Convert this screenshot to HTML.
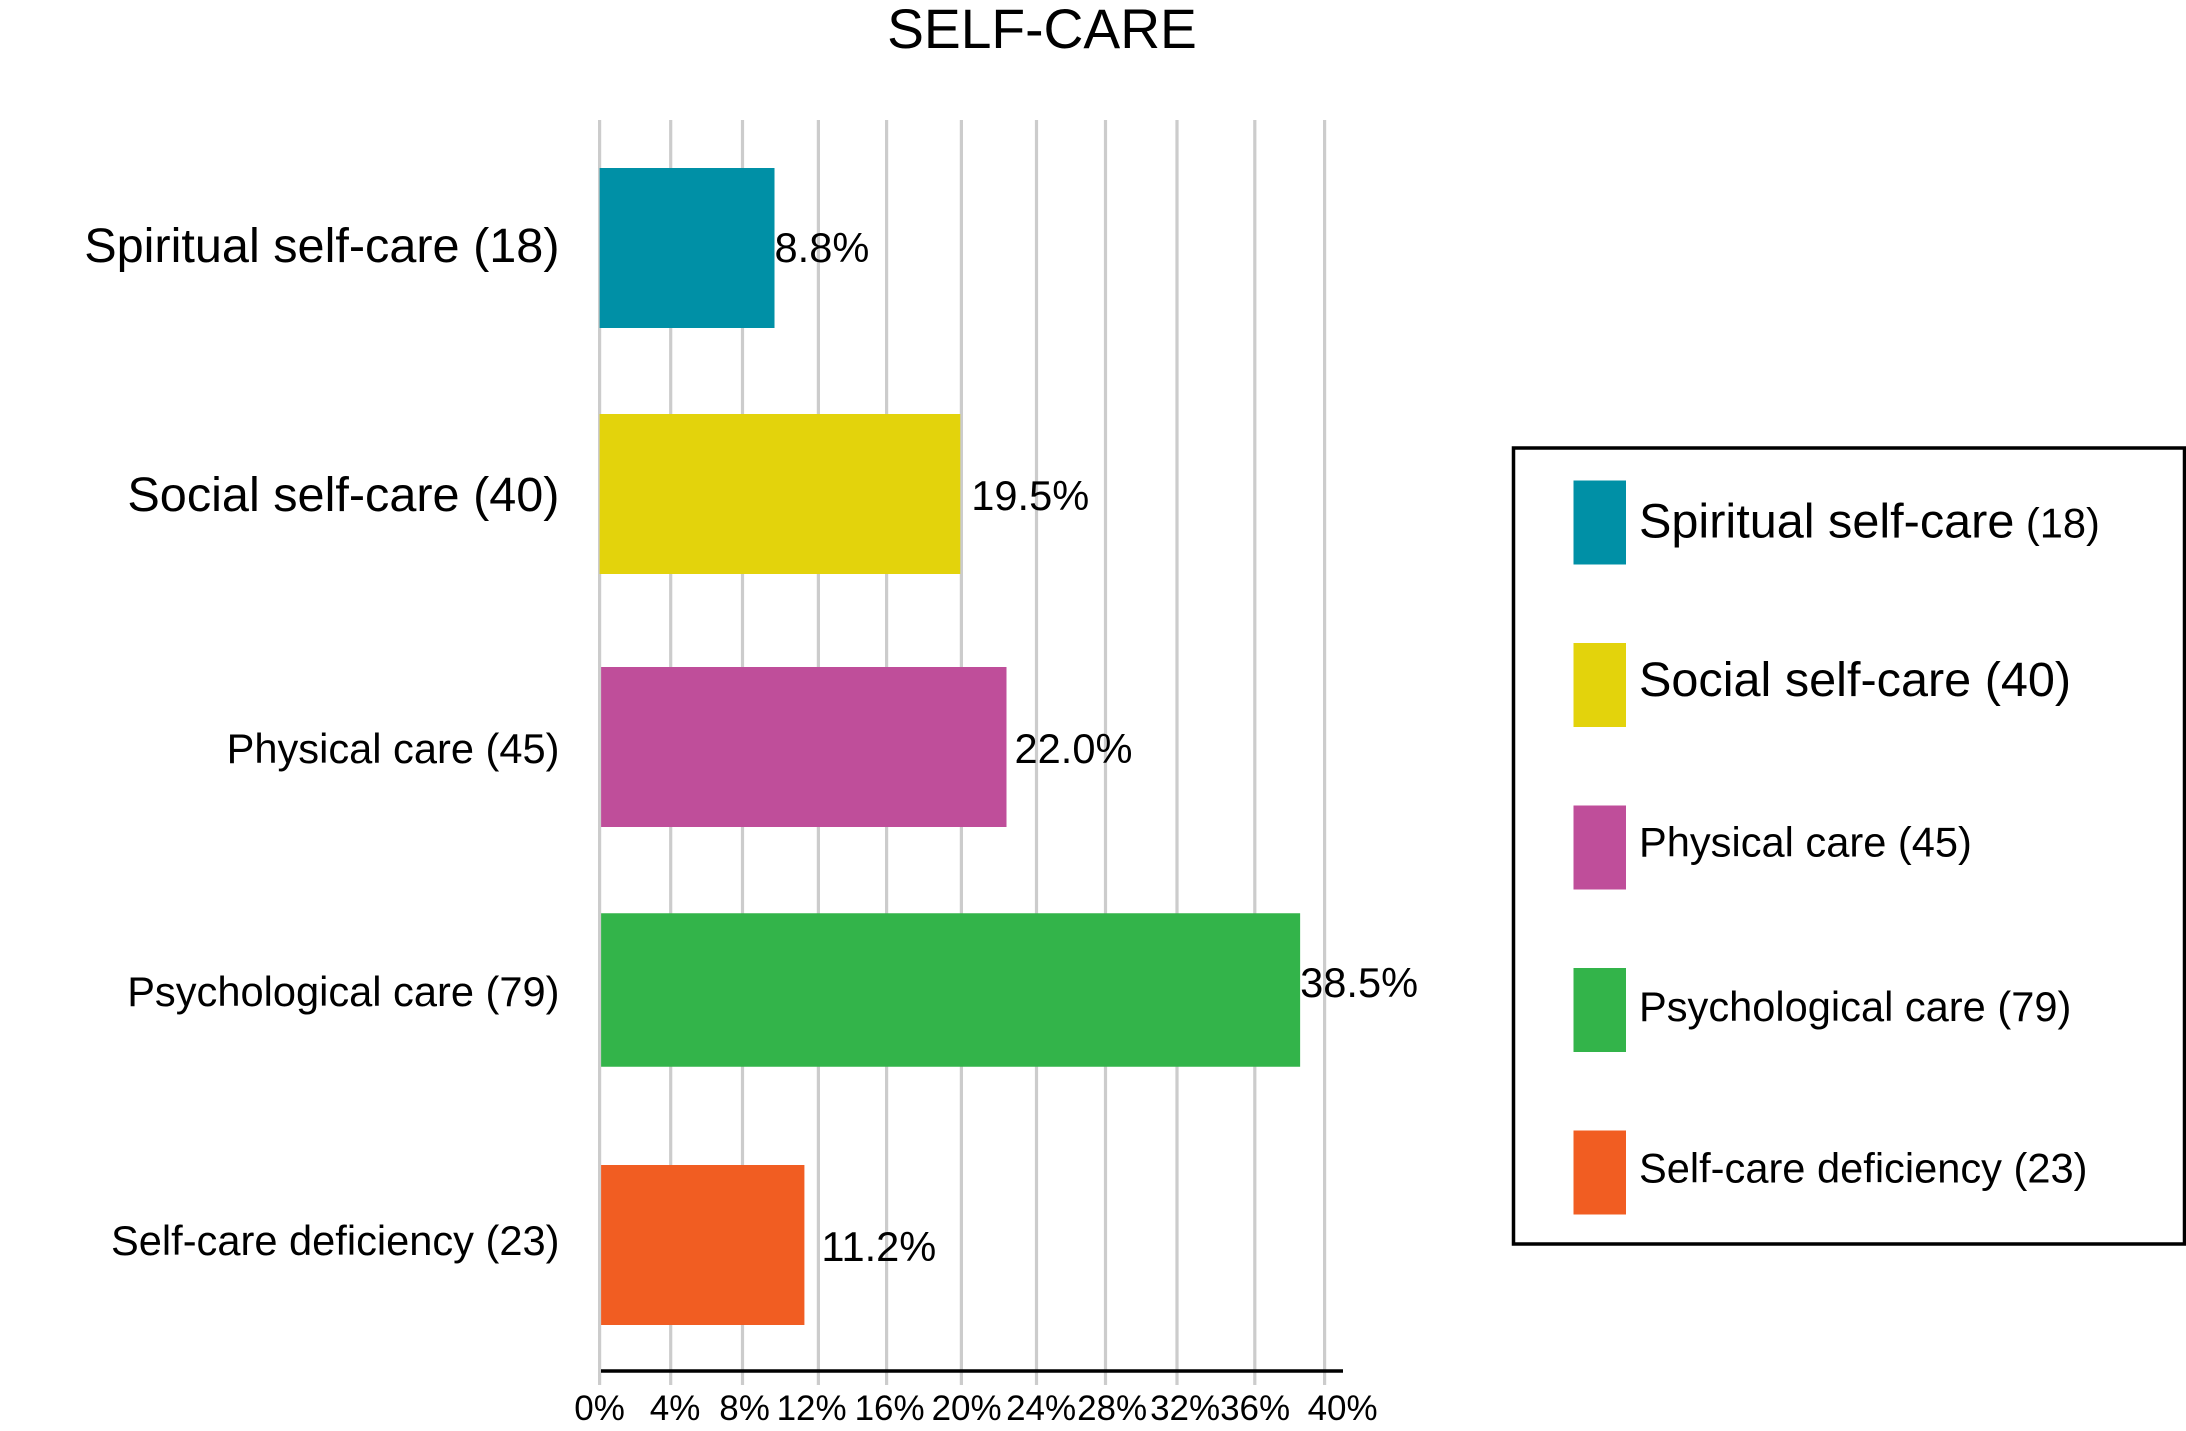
<!DOCTYPE html>
<html lang="en">
<head>
<meta charset="utf-8">
<title>SELF-CARE</title>
<style>
html,body{margin:0;padding:0;background:#fff;}
body{width:2186px;height:1431px;overflow:hidden;}
svg{display:block;}
text{font-family:"Liberation Sans",Arial,sans-serif;fill:#000;}
</style>
</head>
<body>
<svg id="chart" xmlns="http://www.w3.org/2000/svg" width="2186" height="1431" viewBox="0 0 2186 1431">
  <rect x="0" y="0" width="2186" height="1431" fill="#ffffff"/>
  <text x="1042" y="48" font-size="55.2" text-anchor="middle">SELF-CARE</text>
  <g id="grid"></g>
  <g id="bars"></g>
  <g id="values"></g>
  <g id="cats"></g>
  <line x1="601" y1="1371" x2="1343" y2="1371" stroke="#000" stroke-width="3.5"/>
  <g id="ticks"></g>
  <g id="legend">
    <rect x="1513.5" y="448" width="671" height="796" fill="#fff" stroke="#000" stroke-width="3.5"/>
  </g>
</svg>
<script>
// Data
const categories = ["Spiritual self-care", "Social self-care", "Physical care", "Psychological care", "Self-care deficiency"];
const counts = [18, 40, 45, 79, 23];
const barValues = [9.65, 19.9, 22.45, 38.65, 11.3];
const printedValues = ["8.8%", "19.5%", "22.0%", "38.5%", "11.2%"];
const tickValues = [0, 4, 8, 12, 16, 20, 24, 28, 32, 36, 40];
const tickLabels = ["0%", "4%", "8%", "12%", "16%", "20%", "24%", "28%", "32%", "36%", "40%"];
const colors = ["#0090a6", "#e3d30c", "#bf4e9a", "#33b44a", "#f15d22"];

// Layout: scales plus small relative nudges for the hand-placed original artwork
const NS = "http://www.w3.org/2000/svg";
const xOrigin = 599.6, xPerUnit = 18.125;
const bandStart = 248, bandStep = 249;
const BIG = 48.6, SMALL = 41.6;
const xScale = v => xOrigin + v * xPerUnit;
const yScale = i => bandStart + i * bandStep;
const gridDrift = [0, -1.4, -2.1, 1.3, -3, -0.7, 1.9, -1.6, -2.6, 2.7, 0];
const tickLabelDrift = [0, 3, 0, -5.5, 0, 4.5, 6.5, 5, 5.5, 3, 18];
const bandDrift = [0, -3, 1, -5, 1];
const barThickness = [160, 160, 160, 153.5, 160];
const barInset = [0, 0, 1.5, 1.5, 1.5];
const valueGap = [0, 11, 8, 0, 17];
const valueRise = [14, 16, 16, 7, 16];
const catRise = [14, 17, 16, 16, 10];
const legendDrop = [15, 11, 9, 11, 10];

function make(tag, attrs, parent, text) {
  const el = document.createElementNS(NS, tag);
  for (const k in attrs) el.setAttribute(k, attrs[k]);
  if (text !== undefined) el.textContent = text;
  parent.appendChild(el);
  return el;
}

const gridG = document.getElementById("grid");
const barsG = document.getElementById("bars");
const valuesG = document.getElementById("values");
const catsG = document.getElementById("cats");
const ticksG = document.getElementById("ticks");
const legendG = document.getElementById("legend");

tickValues.forEach((v, i) => {
  const x = xScale(v);
  const g = make("line", {x1: x + gridDrift[i], x2: x + gridDrift[i], y1: 120, y2: 1385, stroke: "#cccccc", "stroke-width": 3.2}, gridG);
  
  
  const t = make("text", {x: x + tickLabelDrift[i], y: 1420, "font-size": 35, "text-anchor": "middle"}, ticksG, tickLabels[i]);
  
  
});

categories.forEach((name, i) => {
  const cy = yScale(i) + bandDrift[i];
  const right = xScale(barValues[i]);
  const size = i < 2 ? BIG : SMALL;

  const bar = make("rect", {x: xOrigin + barInset[i], y: cy - barThickness[i] / 2, width: right - xOrigin - barInset[i], height: barThickness[i], fill: colors[i]}, barsG);
  
  

  const val = make("text", {x: right + valueGap[i], y: cy + valueRise[i], "font-size": SMALL}, valuesG, printedValues[i]);
  
  

  const cat = make("text", {x: 559.5, y: cy + catRise[i], "font-size": size, "text-anchor": "end"}, catsG, name + " (" + counts[i] + ")");
  
  

  const ly = 480.5 + i * 162.5;
  const sw = make("rect", {x: 1573.5, y: ly, width: 52.5, height: 84, fill: colors[i]}, legendG);
  
  

  const lt = make("text", {x: 1639, y: ly + 42 + legendDrop[i], "font-size": size}, legendG);
  
  
  make("tspan", {}, lt, name + " ");
  make("tspan", {"font-size": i === 0 ? SMALL : size, dx: i === 0 ? -2 : 0}, lt, "(" + counts[i] + ")");
});
</script>
</body>
</html>
